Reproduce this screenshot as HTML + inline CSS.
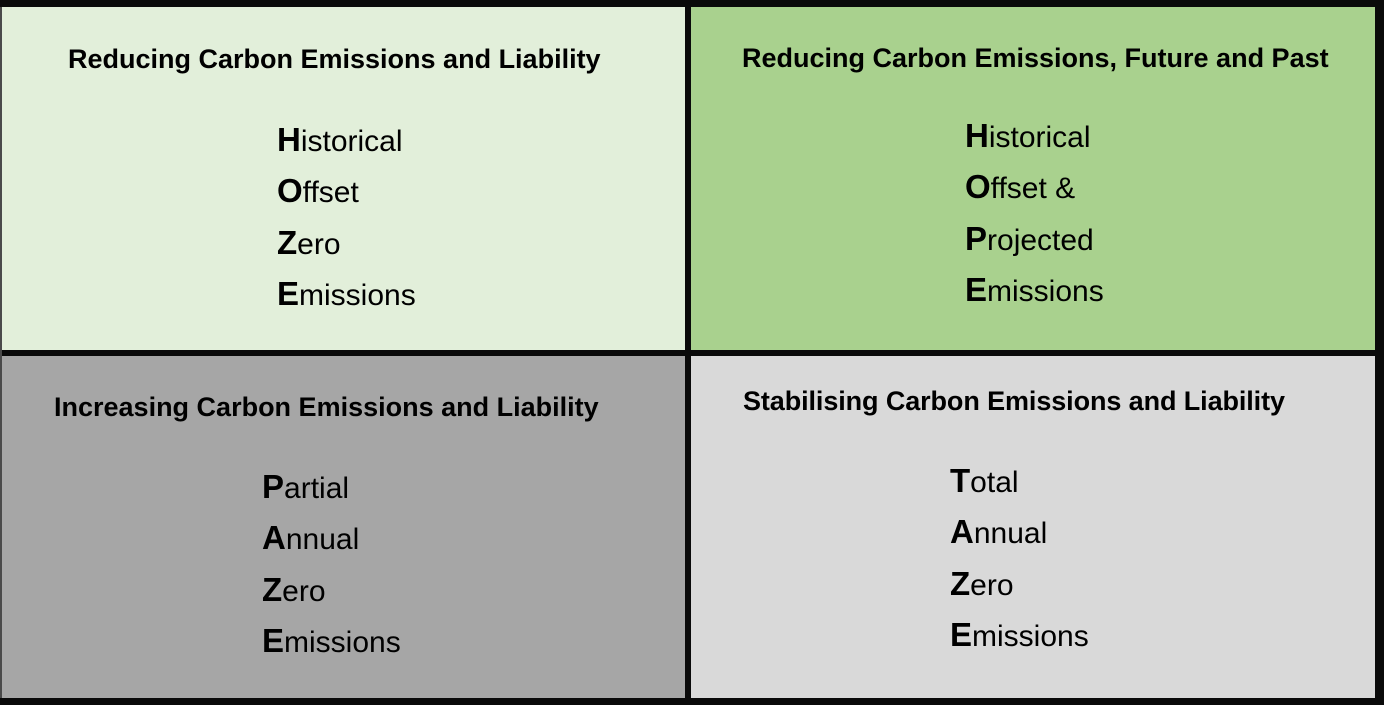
<!DOCTYPE html>
<html>
<head>
<meta charset="utf-8">
<style>
  html, body { margin:0; padding:0; }
  body { width:1384px; height:705px; background:#0a0a0a; position:relative; overflow:hidden;
         font-family:"Liberation Sans", Arial, sans-serif; color:#000; }
  .edge { position:absolute; left:0; top:7px; width:2px; height:691px; background:#4a4a4a; }
  .q { position:absolute; }
  .h { position:absolute; white-space:nowrap; font-weight:bold; font-size:27px; line-height:32px; }
  .l { position:absolute; white-space:nowrap; font-size:30px; line-height:40px; }
  .l b { font-size:33px; line-height:0; font-weight:bold; letter-spacing:0; }
</style>
</head>
<body>
<div class="edge"></div>
<div class="q" style="left:2px;top:7px;width:683px;height:343px;background:#e2efda;"></div>
<div class="q" style="left:691px;top:7px;width:684px;height:343px;background:#a9d18e;"></div>
<div class="q" style="left:2px;top:356px;width:683px;height:342px;background:#a6a6a6;"></div>
<div class="q" style="left:691px;top:356px;width:684px;height:342px;background:#d9d9d9;"></div>

<!-- Top-left -->
<div class="h" style="left:68px;top:43px;">Reducing Carbon Emissions and Liability</div>
<div class="l" style="left:277px;top:122px;"><b>H</b>istorical</div>
<div class="l" style="left:277px;top:173px;"><b>O</b>ffset</div>
<div class="l" style="left:277px;top:225px;"><b>Z</b>ero</div>
<div class="l" style="left:277px;top:276px;"><b>E</b>missions</div>

<!-- Top-right -->
<div class="h" style="left:742px;top:42px;">Reducing Carbon Emissions, Future and Past</div>
<div class="l" style="left:965px;top:118px;"><b>H</b>istorical</div>
<div class="l" style="left:965px;top:169px;"><b>O</b>ffset &amp;</div>
<div class="l" style="left:965px;top:221px;"><b>P</b>rojected</div>
<div class="l" style="left:965px;top:272px;"><b>E</b>missions</div>

<!-- Bottom-left -->
<div class="h" style="left:54px;top:391px;">Increasing Carbon Emissions and Liability</div>
<div class="l" style="left:262px;top:469px;"><b>P</b>artial</div>
<div class="l" style="left:262px;top:520px;"><b>A</b>nnual</div>
<div class="l" style="left:262px;top:572px;"><b>Z</b>ero</div>
<div class="l" style="left:262px;top:623px;"><b>E</b>missions</div>

<!-- Bottom-right -->
<div class="h" style="left:743px;top:385px;letter-spacing:-0.1px;">Stabilising Carbon Emissions and Liability</div>
<div class="l" style="left:950px;top:463px;"><b>T</b>otal</div>
<div class="l" style="left:950px;top:514px;"><b>A</b>nnual</div>
<div class="l" style="left:950px;top:566px;"><b>Z</b>ero</div>
<div class="l" style="left:950px;top:617px;"><b>E</b>missions</div>
</body>
</html>
